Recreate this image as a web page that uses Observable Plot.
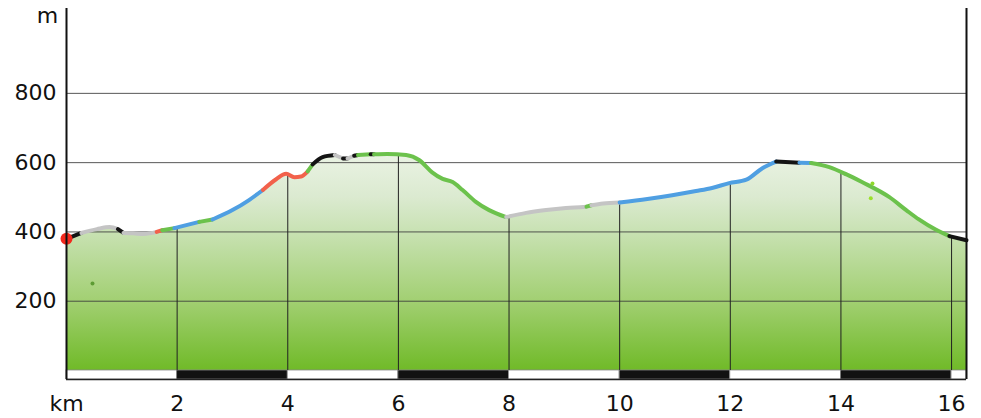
<!DOCTYPE html>
<html><head><meta charset="utf-8">
<script src="https://cdn.jsdelivr.net/npm/d3@7"></script>
<script src="https://cdn.jsdelivr.net/npm/@observablehq/plot@0.6"></script>
<style>body{margin:0;background:#fff} #chart{width:981px;height:418px}</style>
</head><body><div id="chart"></div>
<script>
// Profile: distance (km), elevation (m), surface of the segment starting at each point
const km = [0.0,0.27,0.55,0.78,0.93,1.03,1.2,1.4,1.63,1.73,1.95,2.4,2.64,3.0,3.3,3.55,3.79,3.97,4.12,4.24,4.36,4.45,4.63,4.85,5.0,5.08,5.2,5.27,5.5,5.56,5.8,6.14,6.38,6.61,6.8,6.98,7.16,7.4,7.64,7.95,8.31,8.67,9.03,9.4,9.49,9.7,10.0,10.5,10.95,11.38,11.67,11.98,12.29,12.58,12.83,13.25,13.46,13.79,14.1,14.38,14.87,15.18,15.41,15.72,15.96,16.27];
const elev = [380,397,408,414,408,397,396,394,400,405,411,429,436,463,492,521,552,568,558,560,575,595,616,622,612,612,620,622,624,624,625,622,607,572,553,544,521,487,463,443,455,463,469,473,477,482,485,495,506,518,527,541,551,584,603,600,599,587,566,544,501,463,436,406,388,376];
const surface = ["path","asphalt","asphalt","asphalt","path","asphalt","asphalt","asphalt","trail","meadow","road","meadow","road","road","road","trail","trail","trail","trail","trail","meadow","path","path","asphalt","path","asphalt","path","meadow","path","meadow","meadow","meadow","meadow","meadow","meadow","meadow","meadow","meadow","meadow","asphalt","asphalt","asphalt","asphalt","meadow","asphalt","asphalt","road","road","road","road","road","road","road","road","path","road","meadow","meadow","meadow","meadow","meadow","meadow","meadow","meadow","path","path"];
const surfaceTypes = ["asphalt","path","trail","road","meadow"];
const surfaceColors = ["#c4c4c4","#141414","#f2614b","#4f9fe2","#6cc24c"];
const gridKm = [2,4,6,8,10,12,14,16];
const gridElev = [200,400,600,800];
const xTicks = [0,2,4,6,8,10,12,14,16];
const barStarts = [0,2,4,6,8,10,12,14,16];
const barFills = ["white","#111","white","#111","white","#111","white","#111","white"];
const markerKm = [0.47,14.57,14.54];
const markerElev = [251,540,497];
const markerColors = ["#5d9c34","#8fd82c","#9be02a"];
const yDomain = [-26, 1045];

const kmMax = km[km.length-1];
const colorOf = Object.fromEntries(surfaceTypes.map((s,i)=>[s,surfaceColors[i]]));
const points = km.map((k,i)=>({km:k, elev:elev[i]}));
const lineRows = [];
let seg = -1, prev = null;
for (let i=0;i<km.length-1;i++){
  if (surface[i]!==prev){ seg++; prev = surface[i]; lineRows.push({km:km[i],elev:elev[i],seg,surface:surface[i]}); }
  lineRows.push({km:km[i+1],elev:elev[i+1],seg,surface:surface[i]});
}
const interp = k => { const j = d3.bisectRight(km,k); if (j<=0) return elev[0]; if (j>=km.length) return elev[elev.length-1];
  const t=(k-km[j-1])/(km[j]-km[j-1]); return elev[j-1]+t*(elev[j]-elev[j-1]); };
const bars = barStarts.map((s,i)=>({x1:s, x2: i<barStarts.length-1?barStarts[i+1]:kmMax, fill:barFills[i]}));
const markers = markerKm.map((k,i)=>({km:k, elev:markerElev[i], c:markerColors[i]}));

const plot = Plot.plot({
  width: 981, height: 418,
  marginLeft: 66, marginRight: 15, marginTop: 8, marginBottom: 39,
  x: {domain: [0, kmMax]},
  y: {domain: yDomain},
  style: {fontFamily: "DejaVu Sans, Verdana, sans-serif", background: "white", color: "#111"},
  marks: [
    Plot.areaY(points, {x:"km", y:"elev", fill:"url(#fillGrad)", curve:"monotone-x"}),
    Plot.rect(bars, {x1:"x1", x2:"x2", y1: yDomain[0], y2: 0, fill:"fill", stroke:"#888", strokeWidth:0.8}),
    Plot.ruleY(gridElev, {stroke:"#3a3a3a", strokeWidth:1, strokeOpacity:0.85}),
    Plot.ruleX(gridKm, {x: d=>d, y1: 0, y2: d=>interp(d), stroke:"#222", strokeWidth:1}),
    Plot.line(lineRows, {x:"km", y:"elev", z:"seg", stroke: d => colorOf[d.surface], strokeWidth:4, curve:"monotone-x", strokeLinecap:"round"}),
    Plot.dot(markers, {x:"km", y:"elev", r:2, fill:"c"}),
    Plot.dot(points.slice(0,1), {x:"km", y:"elev", r:6, fill:"#f2281c"}),
    Plot.ruleY([yDomain[0]], {stroke:"#222", strokeWidth:1.5}),
    Plot.ruleX([0], {stroke:"#111", strokeWidth:2}),
    Plot.ruleX([kmMax], {stroke:"#111", strokeWidth:2}),
    Plot.axisX({ticks: xTicks, tickFormat: d => d===0 ? "km" : String(d), tickSize:0, tickPadding:16, fontSize:22, fontWeight:500, label:null}),
    Plot.axisY({ticks: gridElev, tickSize:0, tickPadding:10, fontSize:22, fontWeight:500, label:null}),
    Plot.text(["m"], {frameAnchor:"top-left", textAnchor:"middle", dx:-19, dy:-1, fontSize:22, fontWeight:500, fill:"#111"})
  ]
});
document.getElementById("chart").appendChild(plot);
const ys = plot.scale("y");
const svg = d3.select(plot);
const defs = svg.insert("defs", ":first-child");
const g = defs.append("linearGradient").attr("id","fillGrad").attr("gradientUnits","userSpaceOnUse")
  .attr("x1",0).attr("x2",0).attr("y1", ys.apply(640)).attr("y2", ys.apply(0));
[[0,"#ecf4e6"],[0.22,"#dbead0"],[0.37,"#c9e2b4"],[0.68,"#a3d074"],[1,"#70ba28"]].forEach(([o,c])=>g.append("stop").attr("offset",o).attr("stop-color",c));
</script></body></html>
